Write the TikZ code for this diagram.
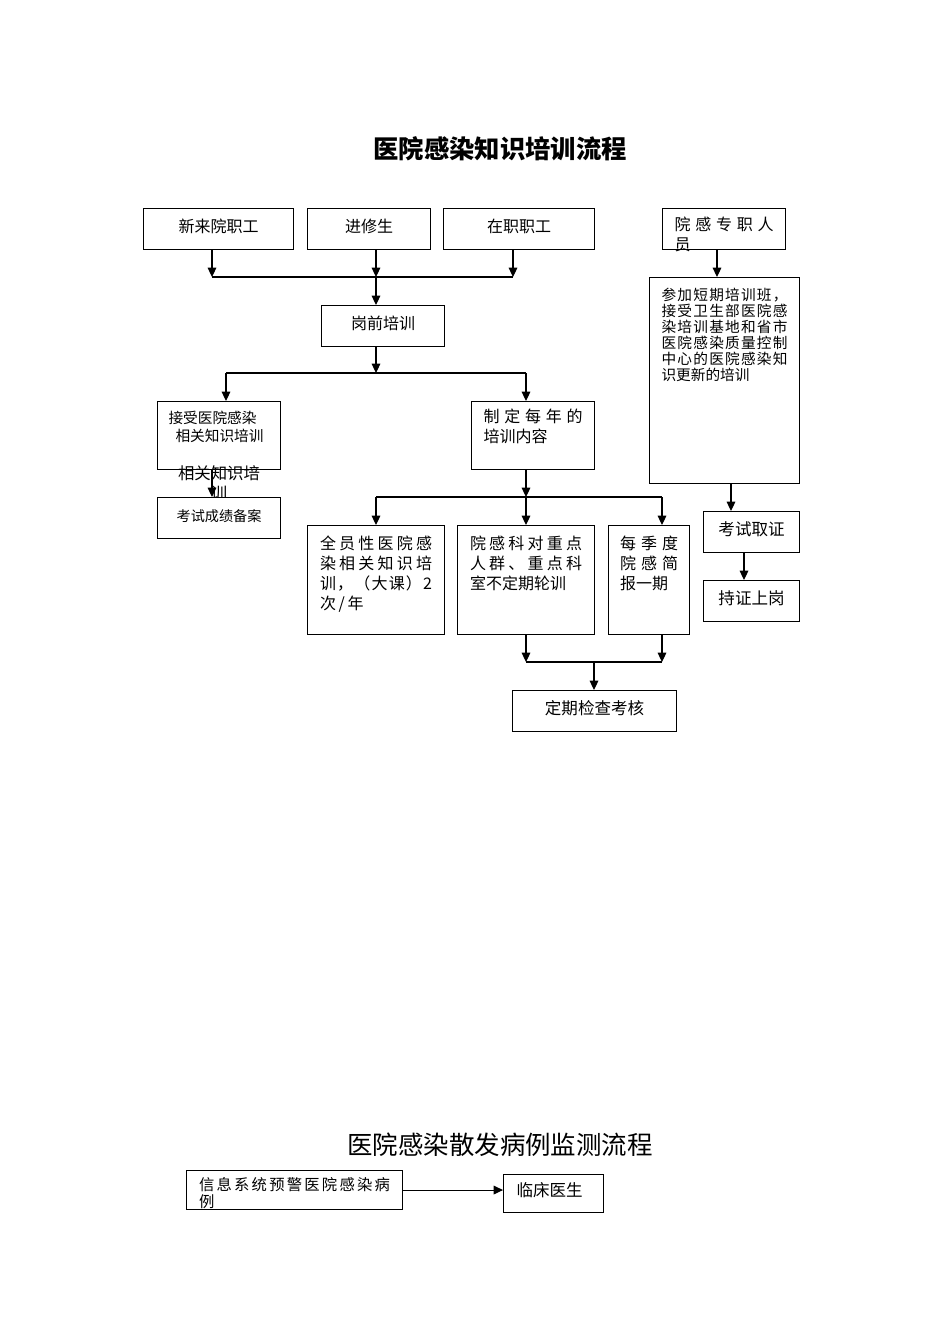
\documentclass[tikz,border=0pt]{standalone}
\usepackage{fontspec}
\setmainfont{Noto Sans CJK SC}
\usetikzlibrary{arrows.meta}

% a line of characters spread over the full text width
\def\spreadnext#1{\ifx#1\relax\else\hfill#1\expandafter\spreadnext\fi}
\newcommand{\spread}[1]{\makebox[\hsize]{\spreadfirst#1\relax}}
\def\spreadfirst#1{#1\spreadnext}

\begin{document}
\begin{tikzpicture}[
  x=0.75pt, y=-0.75pt,
  >={Triangle[length=7pt,width=6.5pt]},
  box/.style={draw, line width=0.8pt, fill=white, anchor=north west, inner sep=0pt,
              align=center, text height=10.5pt, text depth=5.8pt,
              font=\fontsize{12}{15}\selectfont},
  tbox/.style={box, align=left, execute at begin node=\setlength{\parindent}{0pt}},
  link/.style={->, line width=0.8pt},
  bar/.style={line width=0.8pt},
  title/.style={font=\fontsize{19}{23}\selectfont\bfseries},
]
\useasboundingbox (0,0) rectangle (950,1344);

\node[title] (title) at (500,149) {医院感染知识培训流程};

% first row
\node[box, minimum width=112.5pt, minimum height=30.75pt] (xinlai) at (143,208) {新来院职工};
\node[box, minimum width=92.25pt, minimum height=30.75pt] (jinxiu) at (307,208) {进修生};
\node[box, minimum width=113.25pt, minimum height=30.75pt] (zaizhi) at (443,208) {在职职工};
\node[tbox, text width=74.25pt, inner xsep=9pt, text height=16.4pt, text depth=14.35pt]
  (zhuanzhi) at (662,208) {\spread{院感专职人}\\员};

\node[box, minimum width=92.25pt, minimum height=30.75pt] (gangqian) at (321,305) {岗前培训};

% left branch
\node[tbox, font=\fontsize{11}{13.7}\selectfont, text width=75.75pt, inner xsep=8.25pt,
  text height=16.1pt, text depth=34.9pt]
  (jieshou) at (157,401) {接受医院感染\\\hspace*{5.25pt}相关知识培训};
\node[font=\fontsize{12.3}{15}\selectfont, text width=62pt, align=center, inner sep=0pt,
  text height=10.2pt, anchor=north] (xiangguan) at (219,466) {相关知识培\\训};
\node[box, font=\fontsize{10.6}{13}\selectfont, minimum width=92.25pt, minimum height=30.75pt]
  (beian) at (157,497) {考试成绩备案};

% middle branch
\node[tbox, text width=74.25pt, inner xsep=9pt, text height=16pt, text depth=35pt]
  (zhiding) at (471,401) {\spread{制定每年的}\\培训内容};
\node[tbox, text width=84pt, inner xsep=9.375pt, text height=18pt, text depth=63.75pt]
  (quanyuan) at (307,525) {\spread{全员性医院感}\\\spread{染相关知识培}\\\spread{训，（大课）2}\\次\,/\,年};
\node[tbox, text width=84pt, inner xsep=9.375pt, text height=18pt, text depth=63.75pt]
  (yuangan) at (457,525) {\spread{院感科对重点}\\\spread{人群、重点科}\\室不定期轮训};
\node[tbox, text width=43.5pt, inner xsep=8.625pt, text height=18pt, text depth=63.75pt]
  (meiji) at (608,525) {\spread{每季度}\\\spread{院感简}\\报一期};
\node[box, font=\fontsize{12.4}{15}\selectfont, minimum width=123pt, minimum height=30.75pt]
  (dingqi) at (512,690) {定期检查考核};

% right column
\node[tbox, font=\fontsize{11}{12}\selectfont, text width=94.5pt, inner xsep=9pt,
  text height=17.1pt, text depth=137.4pt]
  (canjia) at (649,277) {\spread{参加短期培训班，}\\\spread{接受卫生部医院感}\\\spread{染培训基地和省市}\\\spread{医院感染质量控制}\\\spread{中心的医院感染知}\\识更新的培训};
\node[box, font=\fontsize{12.4}{15}\selectfont, minimum width=72pt, minimum height=30.75pt]
  (kaozheng) at (703,511) {考试取证};
\node[box, font=\fontsize{12.4}{15}\selectfont, minimum width=72pt, minimum height=30.75pt]
  (chizheng) at (703,580) {持证上岗};

% second chart
\node[font=\fontsize{19.1}{23}\selectfont] (title2) at (500,1145) {医院感染散发病例监测流程};
\node[tbox, font=\fontsize{11.5}{13}\selectfont, text width=143.25pt, inner xsep=9.375pt,
  text height=15pt, text depth=14.25pt]
  (xinxi) at (186,1170) {\spread{信息系统预警医院感染病}\\例};
\node[box, font=\fontsize{12.4}{15}\selectfont, align=left, text width=55.5pt, inner xsep=9.75pt,
  minimum height=28.5pt] (linchuang) at (503,1174) {临床医生};

% junctions
\coordinate (jA) at (212,277);
\coordinate (jB) at (376,277);
\coordinate (jC) at (513,277);
\coordinate (jD) at (376,373);
\coordinate (jE) at (226,373);
\coordinate (jF) at (526,373);
\coordinate (jH) at (526,497);
\coordinate (jI) at (376,497);
\coordinate (jJ) at (662,497);
\coordinate (jK) at (526,662);
\coordinate (jL) at (662,662);
\coordinate (jM) at (594,662);
\coordinate (rA) at (717,277);
\coordinate (rB) at (731,511);
\coordinate (rC) at (744,580);

\draw[link] (xinlai.south -| jA) -- (jA);
\draw[link] (jinxiu.south -| jB) -- (jB);
\draw[link] (zaizhi.south -| jC) -- (jC);
\draw[bar] (jA) -- (jC);
\draw[link] (jB) -- (gangqian.north -| jB);
\draw[link] (gangqian.south -| jD) -- (jD);
\draw[bar] (jE) -- (jF);
\draw[link] (jE) -- (jieshou.north -| jE);
\draw[link] (jF) -- (zhiding.north -| jF);
\draw[link] (jieshou.south -| jA) -- (beian.north -| jA);
\draw[link] (zhiding.south -| jH) -- (jH);
\draw[bar] (jI) -- (jJ);
\draw[link] (jI) -- (quanyuan.north -| jI);
\draw[link] (jH) -- (yuangan.north -| jH);
\draw[link] (jJ) -- (meiji.north -| jJ);
\draw[link] (yuangan.south -| jK) -- (jK);
\draw[link] (meiji.south -| jL) -- (jL);
\draw[bar] (jK) -- (jL);
\draw[link] (jM) -- (dingqi.north -| jM);

\draw[link] (zhuanzhi.south -| rA) -- (canjia.north -| rA);
\draw[link] (canjia.south -| rB) -- (kaozheng.north -| rB);
\draw[link] (kaozheng.south -| rC) -- (chizheng.north -| rC);

\draw[link] (xinxi.east) -- (xinxi.east -| linchuang.west);
\end{tikzpicture}
\end{document}
